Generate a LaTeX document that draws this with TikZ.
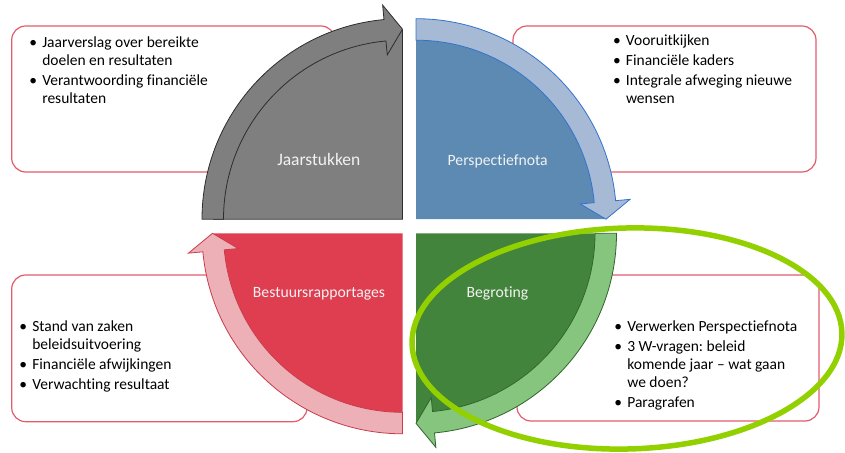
\documentclass[tikz,border=0pt]{standalone}
\usepackage{fontspec}
\setmainfont[Ligatures={NoCommon}]{Carlito}
\frenchspacing
\usetikzlibrary{calc}
\definecolor{boxred}{RGB}{226,92,108}
\definecolor{grayq}{RGB}{127,127,127}
\definecolor{grayline}{RGB}{45,45,45}
\definecolor{blueq}{RGB}{92,138,178}
\definecolor{blueband}{RGB}{166,185,213}
\definecolor{blueline}{RGB}{50,115,205}
\definecolor{greenq}{RGB}{67,132,60}
\definecolor{greenband}{RGB}{134,197,125}
\definecolor{greenline}{RGB}{50,100,45}
\definecolor{redq}{RGB}{222,62,80}
\definecolor{redband}{RGB}{236,176,182}
\definecolor{redline}{RGB}{200,60,75}
\definecolor{qtext}{RGB}{242,242,242}
\definecolor{ellgreen}{RGB}{146,208,0}
\newcommand{\mybul}{\makebox[13pt][l]{\textbullet}}
\newcommand{\cyclearrow}[4]{%
  \filldraw[fill=#3, draw=#4, line width=0.8pt, line join=miter]
    ($(#1)+(#2:200.5pt)$) arc[start angle=#2, end angle=#2-84.7, radius=200.5pt]
    -- ($(#1)+(#2-84.7:215pt)$) -- ($(#1)+(#2-90:190pt)$) -- ($(#1)+(#2-84.7:165pt)$)
    -- ($(#1)+(#2-84.7:179pt)$) arc[start angle=#2-84.7, end angle=#2, radius=179pt] -- cycle;}
\begin{document}
\frenchspacing
\begin{tikzpicture}[x=1pt,y=1pt,
  infobox/.style={draw=boxred, line width=1.2pt, fill=white, rounded corners=14pt, inner sep=0pt},
  bullets/.style={anchor=base west, inner sep=0pt, font=\fontsize{15.5}{17.8}\selectfont\frenchspacing, text=black},
  qlabel/.style={anchor=base, text=qtext, font=\fontsize{15.7}{18}\selectfont, inner sep=0pt}]
\useasboundingbox (0,0) rectangle (845,452);

% information boxes
\node[infobox, minimum width=323.3pt, minimum height=146pt] (box1) at (173.35,353) {};
\node[infobox, minimum width=303pt, minimum height=146pt] (box2) at (664.5,353) {};
\node[infobox, minimum width=295.3pt, minimum height=146.7pt] (box3) at (159.35,103.65) {};
\node[infobox, minimum width=302pt, minimum height=146pt] (box4) at (668,104) {};

\node[bullets] (t1) at (29.1,404) {\begin{tabular}[t]{@{}l@{}l@{}}\mybul & Jaarverslag over bereikte\\ & doelen en resultaten\\[2.2pt] \mybul & Verantwoording financiële\\ & resultaten\end{tabular}};
\node[bullets] (t2) at (612.8,406.4) {\begin{tabular}[t]{@{}l@{}l@{}}\mybul & Vooruitkijken\\[2.2pt] \mybul & Financiële kaders\\[2.2pt] \mybul & Integrale afweging nieuwe\\ & wensen\end{tabular}};
\node[bullets] (t3) at (19.1,120.4) {\begin{tabular}[t]{@{}l@{}l@{}}\mybul & Stand van zaken\\ & beleidsuitvoering\\[2.2pt] \mybul & Financiële afwijkingen\\[2.2pt] \mybul & Verwachting resultaat\end{tabular}};
\node[bullets] (t4) at (614.1,120.4) {\begin{tabular}[t]{@{}l@{}l@{}}\mybul & Verwerken Perspectiefnota\\[2.2pt] \mybul & 3 W-vragen: beleid\\ & komende jaar – wat gaan\\ & we doen?\\[2.2pt] \mybul & Paragrafen\end{tabular}};

% quadrant centres
\coordinate (cG) at (402.5,232.8);
\coordinate (cB) at (416,232.8);
\coordinate (cN) at (416,218.7);
\coordinate (cR) at (402.5,218.7);

% quadrants
\filldraw[fill=grayq, draw=grayline, line width=0.8pt] (cG) -- ($(cG)+(180:189pt)$) arc[start angle=180, end angle=90, radius=189pt] -- cycle;
\cyclearrow{cG}{180}{grayq}{grayline}
\fill[blueq] (cB) -- ($(cB)+(90:189pt)$) arc[start angle=90, end angle=0, radius=189pt] -- cycle;
\cyclearrow{cB}{90}{blueband}{blueline}
\fill[greenq] (cN) -- ($(cN)+(0:189pt)$) arc[start angle=0, end angle=-90, radius=189pt] -- cycle;
\cyclearrow{cN}{0}{greenband}{greenline}
\fill[redq] (cR) -- ($(cR)+(270:189pt)$) arc[start angle=270, end angle=180, radius=189pt] -- cycle;
\cyclearrow{cR}{270}{redband}{redline}

\node[qlabel, font=\fontsize{17.5}{20}\selectfont] (lJ) at (318.8,286.3) {Jaarstukken};
\node[qlabel] (lP) at (497.7,286.3) {Perspectiefnota};
\node[qlabel] (lB) at (319,154.7) {Bestuursrapportages};
\node[qlabel] (lG) at (497.5,154.7) {Begroting};

% highlight ellipse
\draw[ellgreen, line width=5.5pt, rotate around={1.5:(627,113.5)}] (627,113.5) ellipse [x radius=215pt, y radius=110.5pt];
\end{tikzpicture}
\end{document}
